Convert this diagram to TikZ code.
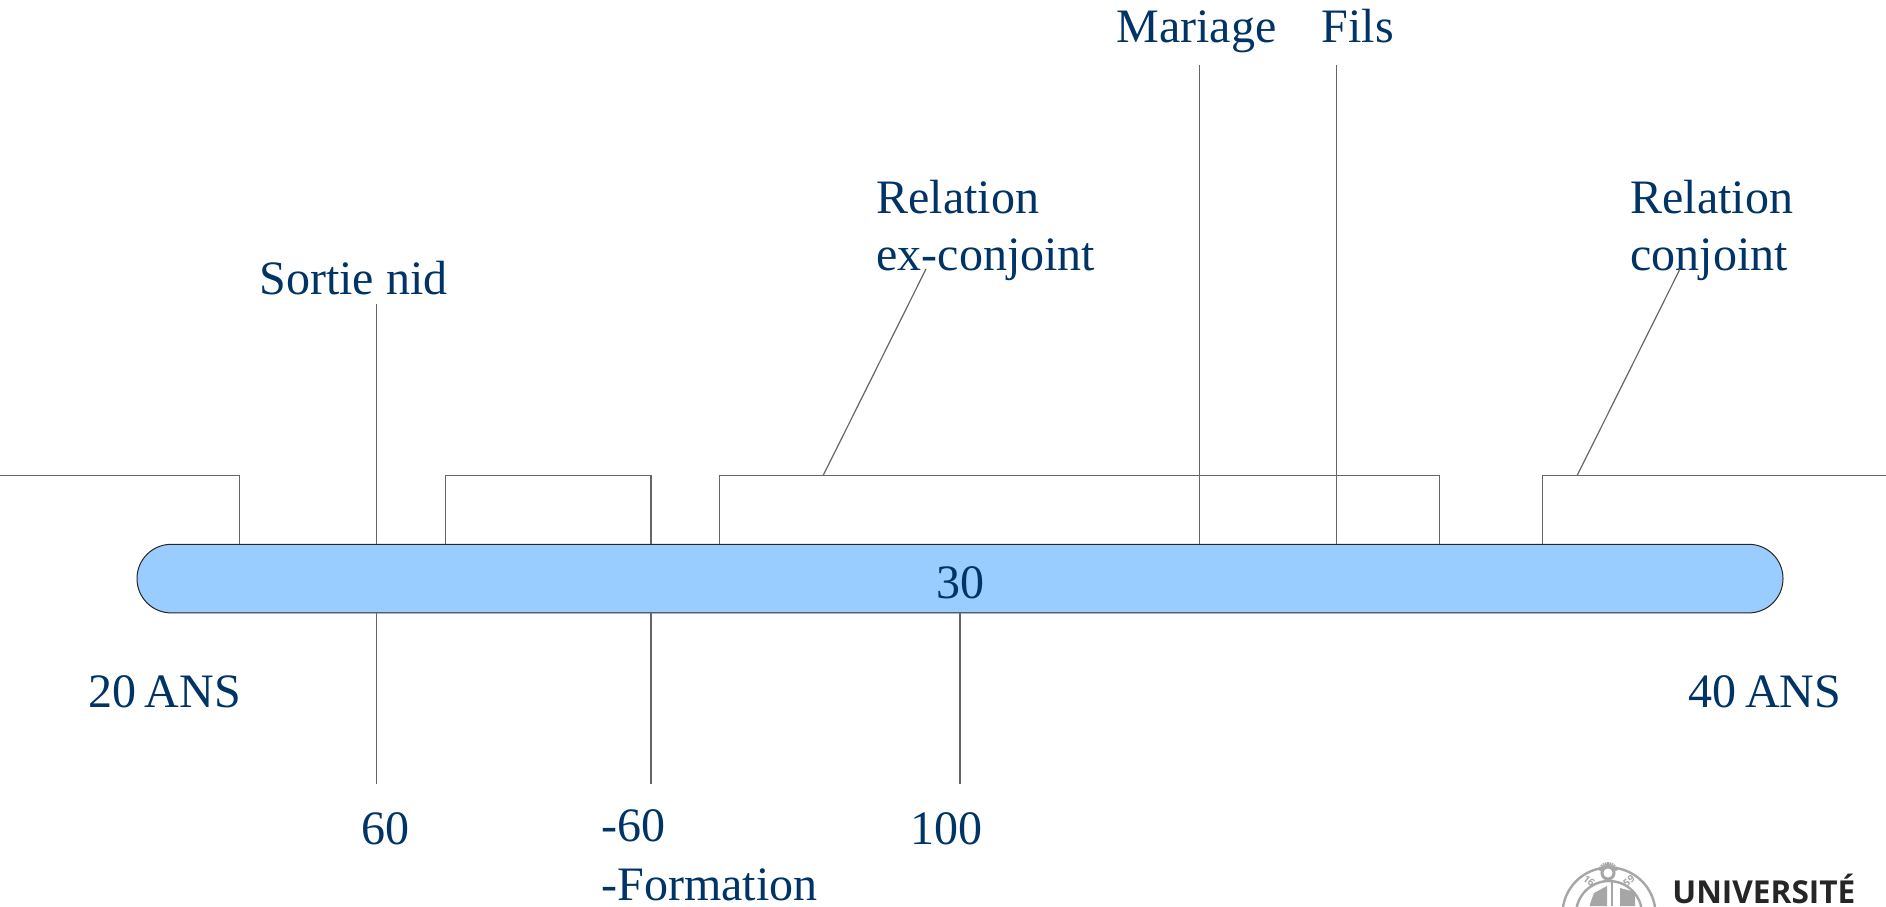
\documentclass[tikz,border=0pt]{standalone}
\usepackage{fontspec}
\setmainfont{Liberation Serif}
\newfontfamily\logofont{Open Sans}
\definecolor{labelblue}{HTML}{003366}
\definecolor{barblue}{HTML}{99CCFF}
\definecolor{sealgray}{HTML}{A6A6A6}
\tikzset{
	lbl/.style={anchor=base west, inner sep=0pt, text=labelblue, font=\fontsize{24}{28}\selectfont, align=left},
	rail/.style={draw=black!60, line width=0.6pt},
	seal/.style={draw=sealgray, line width=1.2pt}
}
\begin{document}
\begin{tikzpicture}[x=0.5pt,y=-0.5pt]
	\useasboundingbox (0,0) rectangle (1886,906);
	% bar
	\node[rectangle, rounded corners=17.1pt, draw=black!85, fill=barblue, line width=0.5pt, inner sep=0pt, minimum width=823pt, minimum height=34.3pt] (bar) at (960,578.6) {};
	\node[lbl] (age30) at (936.5,598) {30};
	\node[lbl] (age20) at (88,707) {20 \kern-1.7pt ANS};
	\node[lbl] (age40) at (1688,707) {40 \kern-1.7pt ANS};
	% labels above
	\node[lbl] (sortie) at (259,294) {Sortie nid};
	\node[lbl] (mariage) at (1116,42) {Mariage};
	\node[lbl] (fils) at (1321.5,42) {Fils};
	\node[lbl] (relex) at (876,213.5) {Relation};
	\node[lbl] (exconj) at (876,270) {ex-conjoint};
	\node[lbl] (relco) at (1630,213.5) {Relation};
	\node[lbl] (conj) at (1630,270) {conjoint};
	% labels below
	\node[lbl] (val60) at (361.5,844) {60};
	\node[lbl] (moins60) at (601,841) {-60};
	\node[lbl] (formation) at (601,900) {-Formation};
	\node[lbl] (val100) at (910,844) {100};
	% free ends
	\coordinate (sortieT) at (376.8,304);
	\coordinate (mariageT) at (1199.3,65);
	\coordinate (filsT) at (1336.3,65);
	\coordinate (exT) at (926,269);
	\coordinate (conjT) at (1680,269);
	\coordinate (exB) at (823,475.8);
	\coordinate (conjB) at (1577,475.8);
	\coordinate (b60) at (376.8,784);
	\coordinate (bm60) at (651,784);
	\coordinate (b100) at (960,784);
	% periods
	\draw[rail] (0,475.8) -- (239.8,475.8) -- (239.8,544.4);
	\draw[rail] (445.5,544.4) -- (445.5,475.8) -- (651,475.8) -- (651,544.4);
	\draw[rail] (719.5,544.4) -- (719.5,475.8) -- (1439.5,475.8) -- (1439.5,544.4);
	\draw[rail] (1542.8,544.4) -- (1542.8,475.8) -- (1886,475.8);
	% events
	\draw[rail] (sortieT) -- (sortieT |- bar.north);
	\draw[rail] (mariageT) -- (mariageT |- bar.north);
	\draw[rail] (filsT) -- (filsT |- bar.north);
	\draw[rail] (exB) -- (exT);
	\draw[rail] (conjB) -- (conjT);
	\draw[rail] (b60 |- bar.south) -- (b60);
	\draw[rail] (bm60 |- bar.south) -- (bm60);
	\draw[rail] (b100 |- bar.south) -- (b100);
	% logo
	\draw[seal] (1609,914) circle (46.5);
	\draw[seal] (1609,914) circle (33);
	\foreach \a in {-165,-150,...,-15}
		\draw[sealgray, line width=0.8pt] (1608,872) -- +(\a:10);
	\filldraw[fill=white, draw=sealgray, line width=1.5pt] (1608,873) circle (6);
	\fill[sealgray] (1590,904) -- (1594,893) -- (1607,886) -- (1607,906) -- (1590,906) -- cycle;
	\fill[sealgray] (1620,888) -- (1635,892) -- (1635,906) -- (1620,906) -- cycle;
	\draw[seal] (1612,881) -- (1612,906);
	\node[inner sep=0pt, text=sealgray, rotate=-38, font=\logofont\bfseries\fontsize{5}{6}\selectfont] (seal16) at (1589,881) {16};
	\node[inner sep=0pt, text=sealgray, rotate=38, font=\logofont\bfseries\fontsize{5}{6}\selectfont] (seal59) at (1629,881) {59};
	\node[anchor=base west, inner sep=0pt, text=black!85, font=\logofont\bfseries\fontsize{15.8}{19}\selectfont] (univ) at (1672,903) {UNIVERSITÉ};
\end{tikzpicture}
\end{document}
